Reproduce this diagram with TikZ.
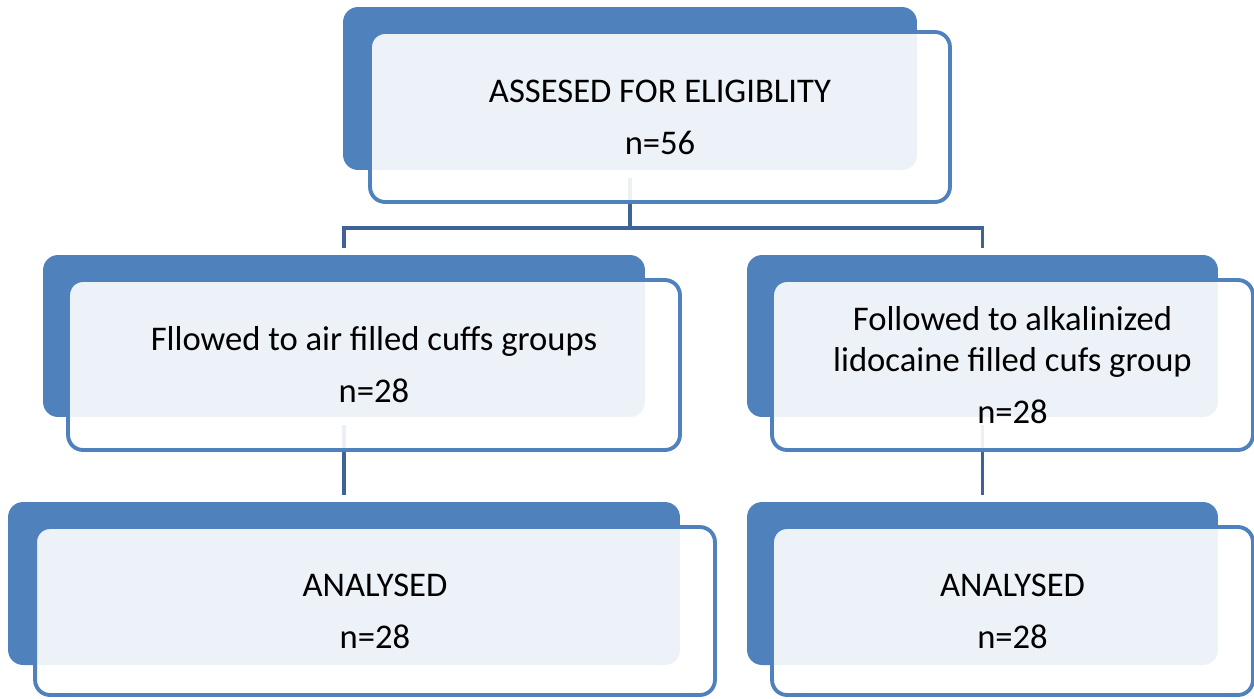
\documentclass[tikz,border=0pt]{standalone}
\usepackage{fontspec}
\setmainfont{Carlito}
\usetikzlibrary{backgrounds}
\definecolor{boxblue}{HTML}{4F81BD}
\definecolor{linkblue}{HTML}{3E6496}
\tikzset{
  backbox/.style={fill=boxblue, rounded corners=0.3cm, inner sep=0pt},
  frontbox/.style={draw=boxblue, line width=2.2pt, fill=white, fill opacity=0.9, text opacity=1,
    rounded corners=0.3cm, align=center, inner sep=0pt, font=\fontsize{19.7}{23.2}\selectfont},
  link/.style={draw=linkblue, line width=2.2pt}
}
\begin{document}
\begin{tikzpicture}[x=0.02cm,y=-0.02cm]
\useasboundingbox (0,0) rectangle (1254,698);

\node[backbox, minimum width=11.48cm, minimum height=3.26cm] (assessback) at (630,88.5) {};
\node[frontbox, minimum width=11.6cm, minimum height=3.4cm] (assess) at (660,117) {ASSESED FOR ELIGIBLITY\\[6.4pt]n=56};

\node[backbox, minimum width=12.04cm, minimum height=3.24cm] (airback) at (344,336) {};
\node[frontbox, minimum width=12.24cm, minimum height=3.4cm] (air) at (374,365) {Fllowed to air filled cuffs groups\\[6.4pt]n=28};

\node[backbox, minimum width=9.42cm, minimum height=3.24cm] (lidoback) at (982.5,336) {};
\node[frontbox, minimum width=9.62cm, minimum height=3.4cm] (lido) at (1012.5,365) {Followed to alkalinized\\lidocaine filled cufs group\\[6.4pt]n=28};

\node[backbox, minimum width=13.44cm, minimum height=3.26cm] (airdoneback) at (344,583.5) {};
\node[frontbox, minimum width=13.6cm, minimum height=3.36cm] (airdone) at (375,611) {ANALYSED\\[6.4pt]n=28};

\node[backbox, minimum width=9.42cm, minimum height=3.26cm] (lidodoneback) at (982.5,583.5) {};
\node[frontbox, minimum width=9.62cm, minimum height=3.36cm] (lidodone) at (1012.5,611) {ANALYSED\\[6.4pt]n=28};

% connectors sit behind the boxes
\begin{scope}[on background layer]
\draw[link] ([yshift=-0.16cm]assessback.south) -- ++(0,50) -| ([yshift=0.14cm]airback.north);
\draw[link] ([yshift=-0.16cm]assessback.south) -- ++(0,50) -| ([yshift=0.14cm]lidoback.north);
\draw[link] ([yshift=-0.16cm]airback.south) -- ([yshift=0.14cm]airdoneback.north);
\draw[link] ([yshift=-0.16cm]lidoback.south) -- ([yshift=0.14cm]lidodoneback.north);
\end{scope}
\end{tikzpicture}
\end{document}
